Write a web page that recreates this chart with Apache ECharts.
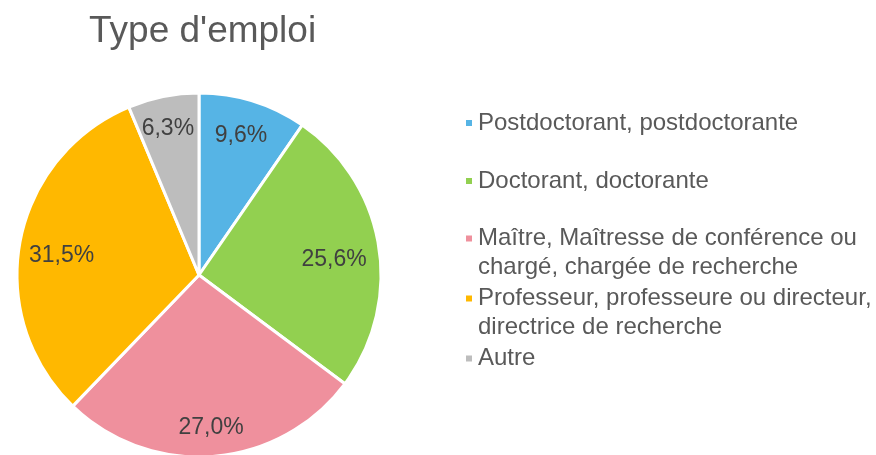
<!DOCTYPE html>
<html>
<head>
<meta charset="utf-8">
<script src="https://cdn.jsdelivr.net/npm/echarts@6/dist/echarts.min.js"></script>
<style>
  html, body { margin: 0; padding: 0; background: #fff; }
  #chart { width: 876px; height: 455px; }
</style>
</head>
<body>
<div id="chart"></div>
<script>
var categories = [
    'Postdoctorant, postdoctorante',
    'Doctorant, doctorante',
    'Maître, Maîtresse de conférence ou chargé, chargée de recherche',
    'Professeur, professeure ou directeur, directrice de recherche',
    'Autre'
];
var legendLabels = [
    'Postdoctorant, postdoctorante',
    'Doctorant, doctorante',
    'Maître, Maîtresse de conférence ou\nchargé, chargée de recherche',
    'Professeur, professeure ou directeur,\ndirectrice de recherche',
    'Autre'
];
var values = [9.6, 25.6, 27.0, 31.5, 6.3];
var colors = ['#56B4E5', '#92D050', '#EF909D', '#FFB800', '#BDBDBD'];
var legendTops = [108.5, 166.5, 195, 255, 344];
// small nudges so the labels sit where the original "best fit" put them
var labelNudges = [[-2, 2], [-11, 9], [0, 5], [8, 8], [-2, -1]];

var font = 'Arial, "Liberation Sans", sans-serif';

var data = categories.map(function(name, i) {
    return {name: name, value: values[i], itemStyle: {color: colors[i]}};
});

var legends = categories.map(function(name, i) {
    var multi = legendLabels[i].indexOf('\n') >= 0;
    return {
        data: [name],
        left: 464,
        top: legendTops[i],
        padding: 0,
        icon: 'rect',
        itemWidth: 8,
        itemHeight: 8,
        selectedMode: false,
        // a blank first line keeps the marker beside the first text line
        formatter: function() { return multi ? ' \n' + legendLabels[i] : legendLabels[i]; },
        textStyle: {
            fontFamily: font,
            fontSize: 24,
            color: '#595959',
            lineHeight: 29
        }
    };
});

var option = {
    animation: false,
    color: colors,
    title: {
        text: "Type d'emploi",
        left: 84,
        top: 8,
        textStyle: {
            fontFamily: font,
            fontSize: 37,
            fontWeight: 'normal',
            color: '#595959'
        }
    },
    legend: legends,
    series: [
        {
            type: 'pie',
            center: [199, 275],
            radius: [0, 182],
            startAngle: 90,
            clockwise: true,
            silent: true,
            itemStyle: {borderColor: '#fff', borderWidth: 3},
            label: {show: false},
            labelLine: {show: false},
            data: data
        },
        {
            // invisible ring, only used to place the labels further out
            type: 'pie',
            center: [199, 275],
            radius: [108, 182],
            startAngle: 90,
            clockwise: true,
            silent: true,
            itemStyle: {color: 'rgba(0,0,0,0)', borderWidth: 0},
            label: {
                show: true,
                position: 'inside',
                fontFamily: font,
                fontSize: 23,
                color: '#404040',
                formatter: function(p) {
                    return p.value.toFixed(1).replace('.', ',') + '%';
                }
            },
            labelLine: {show: false},
            data: categories.map(function(name, i) {
                return {name: name, value: values[i], label: {offset: labelNudges[i]}};
            })
        }
    ]
};

var myChart = echarts.init(document.getElementById('chart'));
myChart.setOption(option);
</script>
</body>
</html>
